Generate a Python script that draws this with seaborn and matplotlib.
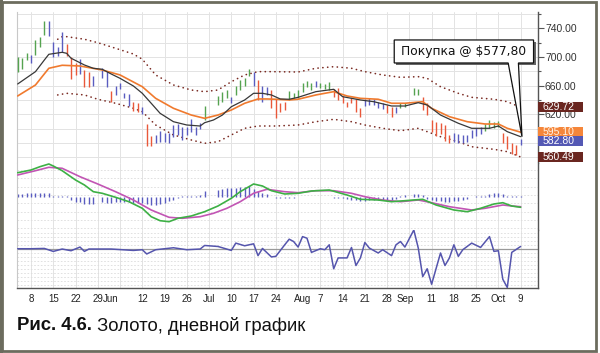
import numpy as np
import pandas as pd
import matplotlib
matplotlib.use("Agg")
import matplotlib.pyplot as plt
import matplotlib.transforms as mtrans
from matplotlib.patches import Polygon, Rectangle
import seaborn as sns

sns.set_style("white")
plt.rcParams['font.family'] = ['Liberation Sans', 'DejaVu Sans']

# ---------------- data (weekday index: 0 = 2006-05-03) ----------------
bar_day = list(range(0, 18)) + list(range(19, 43)) + list(range(45, 88)) + list(range(89, 114))
bar_high = [700.4, 698.1, 706.0, 702.8, 723.7, 727.4, 750.6, 750.6, 721.3, 714.3,
            734.4, 717.7, 700.4, 692.0, 696.8, 681.8, 679.5, 673.5,
            684.2, 680.4, 653.0, 659.5, 663.3, 650.2, 648.3, 637.6, 636.2, 629.8,
            606.5, 589.8, 591.2, 596.7, 593.5, 594.4, 605.1, 606.5, 602.7, 602.7,
            613.0, 602.7, 608.3, 631.6,
            645.6, 651.6, 654.0, 643.7, 659.5, 667.9, 670.2, 682.8, 679.5, 667.9,
            659.5, 657.7, 654.0, 641.0, 635.4, 637.6, 653.0, 650.2, 654.0, 663.3,
            666.9, 663.7, 666.9, 663.7, 662.3, 665.5, 654.9, 656.3, 645.6, 637.6,
            642.3, 641.0, 628.4, 641.0, 642.3, 641.0, 637.6, 636.2, 633.0, 629.8,
            630.6, 635.4, 635.4,
            656.3, 654.9, 644.6, 635.4, 612.0, 609.3, 607.9, 605.1, 591.2, 594.4,
            592.5, 591.2, 591.2, 598.1, 600.5, 602.7, 606.5, 612.0, 609.7, 611.1,
            594.4, 589.8, 580.4, 577.2, 585.2]
bar_low = [679.5, 682.8, 695.8, 691.2, 702.8, 714.3, 730.7, 729.3, 700.4, 701.4,
           706.5, 701.4, 668.9, 674.9, 676.2, 657.7, 657.7, 659.5,
           670.3, 657.7, 637.6, 647.0, 654.9, 643.2, 631.6, 624.6, 623.2, 620.0,
           575.8, 576.2, 579.6, 581.8, 581.8, 580.4, 588.8, 591.2, 584.2, 591.2,
           595.8, 591.2, 599.1, 612.1,
           633.0, 637.6, 642.3, 635.4, 647.0, 654.0, 659.5, 673.5, 659.5, 640.0,
           637.6, 647.0, 628.4, 614.4, 623.7, 626.0, 640.0, 642.3, 642.3, 651.6,
           657.7, 653.9, 657.7, 656.7, 654.9, 653.9, 644.6, 640.0, 635.4, 630.6,
           635.4, 623.7, 616.7, 631.6, 633.0, 633.0, 628.4, 627.0, 621.4, 615.8,
           621.4, 628.4, 629.8,
           647.0, 647.0, 626.0, 619.0, 595.3, 590.0, 592.5, 582.8, 580.0, 581.8,
           580.4, 580.4, 581.8, 586.6, 589.8, 592.5, 597.1, 600.5, 600.5, 601.9,
           579.6, 571.2, 564.6, 563.2, 577.2]
bar_color = list("GGGBGGGBBBBRRRBRRB"
                 "BBRBBBBRRBRRBBBBBBBBBBBG"
                 "GGGBGGGGBRBBRRRRGGGGGGBGGGRRRRRRRBBBBBRRBGG"
                 "GGRRRRRRRBBBBBBBGGGGRRRRB")
hist_val = [3, 3, 3.5, 3.5, 4, 4, 4, 4, 1, 0.5, 0.5, 0.5, -3, -5, -5, -7, -7, -7,
            -5, -6, -6, -5, -5, -5, -5, -6, -6, -6, -7, -8, -8, -7, -6, -4, -3, -1,
            0.5, 0.5, 1, 1, 2, 6,
            7, 8, 9, 9, 9, 10, 10, 10.5, 8, 6, 4, 3, -0.5, -1, -1.5, -1.5, -1, -1, -0.5,
            -0.5, -0.5, -0.5, -0.5, -0.5, -0.5, -0.5, -1, -1, -1.5,
            -2, -3, -3, -4, -4, -3, -3, -3, -3, -3, -3, -2, 1, 2,
            3, 3, 2, -2, -3, -4, -4, -5, -5, -4, -4, -3, -2, -0.5, 0.5, 0.5, 1,
            3, 4, 4, 3, 0.5, 0.5, 0.5, 0.5]

fast_day = [0, 4, 6, 7, 10, 11, 12, 15, 17, 19, 21, 23, 26, 28, 30, 32, 35, 38, 41, 42,
            44, 46, 48, 51, 53, 55, 57, 59, 61, 63, 67, 71, 73, 77, 80, 84, 87, 90, 92, 95,
            99, 102, 106, 108, 110, 113]
fast_val = [662.3, 679.5, 695.8, 703.7, 706.5, 705.1, 698.2, 688.8, 684.2, 682.8,
            676.3, 670.2, 659.5, 649.3, 635.4, 621.4, 609.7, 605.1, 603.7, 608.3,
            612.1, 619.0, 630.6, 640.0, 649.3, 649.3, 647.0, 641.4, 641.0, 643.7,
            651.6, 654.9, 644.6, 640.0, 637.6, 631.6, 631.6, 636.2, 633.0, 619.0,
            607.5, 600.5, 600.5, 603.7, 595.8, 588.8]
slow_day = [0, 4, 7, 10, 14, 19, 23, 28, 31, 35, 39, 42, 45, 48, 51, 54, 56, 58, 61, 63,
            67, 71, 74, 77, 81, 84, 87, 91, 93, 97, 101, 105, 108, 110, 113]
slow_val = [645.6, 660.9, 684.2, 688.4, 687.4, 681.8, 674.9, 658.5, 642.3, 628.4,
            619.0, 614.4, 619.0, 626.0, 635.4, 641.4, 641.4, 641.0, 640.0, 641.0,
            647.0, 651.6, 645.6, 642.3, 641.0, 635.4, 635.4, 637.6, 628.4, 616.7,
            609.7, 606.5, 606.5, 600.5, 595.1]
up_day = [9, 10, 11, 15, 18, 22, 26, 28, 31, 35, 39, 42, 45, 48, 51, 54, 57, 63, 67, 71,
          75, 78, 82, 86, 90, 92, 95, 99, 102, 107, 110, 113]
up_val = [724.7, 728.3, 728.3, 724.7, 719.9, 712.1, 704.1, 696.8, 674.9, 660.9,
          653.9, 651.6, 653.9, 665.5, 674.9, 679.5, 679.5, 679.0, 684.2, 686.4,
          684.2, 679.5, 674.9, 671.6, 672.5, 670.2, 658.5, 649.3, 643.7, 641.0,
          637.6, 629.72]
lo_day = [9, 11, 15, 18, 22, 26, 28, 31, 35, 39, 42, 45, 48, 51, 54, 58, 63, 67, 71, 75,
          78, 82, 86, 90, 95, 99, 102, 107, 110, 113]
lo_val = [647.0, 649.3, 647.0, 641.0, 635.4, 628.4, 623.7, 605.1, 591.2, 584.2,
          579.6, 581.8, 591.2, 600.5, 603.7, 603.7, 605.1, 609.7, 613.0, 609.7,
          605.1, 600.5, 597.1, 600.5, 588.8, 581.8, 574.8, 571.2, 567.9, 560.49]

macd_day = [0, 3, 5, 7, 8, 10, 13, 15, 17, 19, 22, 25, 28, 30, 32, 34, 36, 39, 42, 45,
            48, 50, 53, 55, 57, 60, 63, 66, 70, 74, 77, 81, 84, 87, 91, 94, 98, 101, 104, 107,
            109, 111, 113]
macd_val = [24, 26.7, 30, 32.7, 30.7, 26, 16.7, 11.7, 5, 3.4, -0.6, -5, -11.6, -20, -24,
            -25, -21.6, -19.3, -15, -9.3, -1.6, 5, 12.7, 10.7, 6, 2.7, 3.4, 5.7, 6.7, 1.7,
            -2.6, -3.3, -5, -4, -2.6, -8.3, -13.3, -15, -11.6, -7.3, -6, -9.3, -10.6]
sig_day = [0, 4, 7, 10, 14, 18, 22, 26, 30, 34, 37, 41, 44, 47, 50, 53, 56, 60, 63, 67,
           71, 75, 78, 82, 86, 90, 93, 97, 102, 105, 109, 111, 113]
sig_val = [21.7, 26, 29.4, 28.4, 20, 12.7, 5, -3.3, -13.3, -20.6, -21.6, -20, -16.6,
           -11.6, -5, 3.4, 7.4, 5, 4, 6, 6, 3.4, 0, -3.3, -5, -3.3, -6, -10, -13.3,
           -11.6, -8.3, -9.3, -10]

osc_day = [0, 3, 6, 8, 10, 12, 14, 15, 16, 21, 26, 28, 29, 31, 35, 38, 41, 42, 45, 48,
           49, 51, 53, 54, 55, 57, 58, 60, 61, 62, 63, 64, 65, 66, 68, 69, 70, 71, 72, 74,
           75, 76, 77, 78, 79, 81, 82, 84, 85, 86, 87, 89, 90, 91, 92, 93, 95, 96, 97, 98,
           99, 100, 102, 104, 106, 107, 108, 109, 110, 111, 113]
osc_val = [0.3, 0.3, 0.6, -2.4, 0, -1.7, 2, -2.4, 0, 0, -1.4, -0.7, -5, -0.7, 1.3, -0.7,
           0, 3.6, 2.6, -1.4, 6, 3.3, 5.3, -6.7, 0.6, -8, -7.4, 4.3, 10, 7.6, 2, 12.6, 11,
           -3.4, 0.3, -0.7, 4.3, -20, -9, -9, 1.6, -16.7, -9, 6.6, 1, -4, -0.7, -6.7, 4.3,
           7.6, 2, 19.3, 1, -28, -20, -35.7, -4, -16.7, -9, 4.3, -7.4, -0.7, 6, 1.6, 12.6,
           -2.4, -1.7, -30.7, -39, -3.4, 2.6]

tick_dates = ["2006-05-08", "2006-05-15", "2006-05-22", "2006-05-29", "2006-06-01",
              "2006-06-12", "2006-06-19", "2006-06-26", "2006-07-03", "2006-07-10",
              "2006-07-17", "2006-07-24", "2006-08-01", "2006-08-07", "2006-08-14",
              "2006-08-21", "2006-08-28", "2006-09-01", "2006-09-11", "2006-09-18",
              "2006-09-25", "2006-10-02", "2006-10-09"]
tick_labels = ["8", "15", "22", "29", "Jun", "12", "19", "26", "Jul", "10", "17", "24",
               "Aug", "7", "14", "21", "28", "Sep", "11", "18", "25", "Oct", "9"]
month_dates = ["2006-06-01", "2006-07-03", "2006-08-01", "2006-09-01", "2006-10-02"]

right_labels = [620, 660, 700, 740]
value_boxes = [(629.72, "629.72", "#6a2620", "white"),
               (595.10, "595.10", "#f5863a", "#fff3e6"),
               (582.80, "582.80", "#5458b4", "white"),
               (560.49, "560.49", "#6a2620", "white")]
note_text = "Покупка @ $577,80"
caption_bold = "Рис. 4.6."
caption_rest = " Золото, дневной график"

# ---------------- layout ----------------
W, H = 600, 353
fig = plt.figure(figsize=(6.0, 3.53), dpi=100)
fig.patch.set_facecolor("white")

L, R = 17, 538
def box(top, bot):
    return [L / W, 1 - bot / H, (R - L) / W, (bot - top) / H]

ax1 = fig.add_axes(box(12, 163))
ax2 = fig.add_axes(box(163, 230))
ax3 = fig.add_axes(box(230, 288))

start = np.datetime64("2006-05-03")
tick_pos = [int(np.busday_count(start, np.datetime64(d))) for d in tick_dates]
month_pos = [int(np.busday_count(start, np.datetime64(d))) for d in month_dates]
mondays = [int(np.busday_count(start, d)) for d in
           pd.date_range("2006-05-08", "2006-10-09", freq="W-MON").values.astype("datetime64[D]")]

XL = (-0.15, 116.9)
grid_c = "#e3e3e3"
for ax in (ax1, ax2, ax3):
    ax.set_xlim(*XL)
    ax.set_facecolor("white")
    for m in mondays:
        ax.axvline(m, color=grid_c, lw=0.7, zorder=0)
    ax.spines["top"].set_visible(False)
    ax.spines["left"].set_color("#c8c8c8")
    ax.spines["left"].set_linewidth(0.8)
    ax.spines["right"].set_color("#555555")
    ax.spines["right"].set_linewidth(1.0)
    ax.spines["bottom"].set_visible(False)
    ax.set_xticks([])
    ax.tick_params(left=False, labelleft=False)

# ---------------- top: price panel ----------------
for v in range(560, 761, 20):
    ax1.axhline(v, color=grid_c, lw=0.7, zorder=0)

cmap = {"G": "#55a350", "B": "#5a5cc0", "R": "#e9583a"}
ax1.vlines(bar_day, bar_low, bar_high, colors=[cmap[c] for c in bar_color], lw=1.0, zorder=3)

dot_style = dict(color="#7a2a22", lw=1.2, linestyle=(0, (0.1, 2.8)), dash_capstyle="round")
sns.lineplot(x=up_day, y=up_val, ax=ax1, **dot_style, zorder=2)
sns.lineplot(x=lo_day, y=lo_val, ax=ax1, **dot_style, zorder=2)
sns.lineplot(x=slow_day, y=slow_val, ax=ax1, color="#f07a2e", lw=1.2, zorder=4)
sns.lineplot(x=fast_day, y=fast_val, ax=ax1, color="#383838", lw=0.9, zorder=5)
ax1.set_xlim(*XL)
ax1.set_ylim(552.1, 762.7)
ax1.set_xticks([])

ax1.yaxis.tick_right()
ax1.set_yticks(right_labels)
ax1.set_yticklabels([f"{v:.2f}" for v in right_labels])
ax1.set_yticks([v for v in range(560, 761, 20) if v not in right_labels], minor=True)
ax1.tick_params(axis="y", which="major", right=True, labelright=True, length=4, width=0.8,
                color="#555555", labelsize=7.5, labelcolor="#333333", pad=1)
ax1.tick_params(axis="y", which="minor", right=True, length=2.5, width=0.8, color="#555555")
ax1.set_xlabel("")
ax1.set_ylabel("")

bt = mtrans.blended_transform_factory(ax1.transAxes, ax1.transData)
bw = 45 / (R - L)
bh = 10 * 1.395
for v, txt, fc, tc in value_boxes:
    ax1.add_patch(Rectangle((1.0, v - bh / 2), bw, bh, transform=bt, fc=fc, ec="none",
                            clip_on=False, zorder=10))
    ax1.text(1.0 + 4.5 / (R - L), v, txt, transform=bt, ha="left", va="center",
             fontsize=7.5, color=tc, clip_on=False, zorder=11)

# callout
px_x = 1 / 4.45
px_y = 1.395
bx0, bx1, by0, by1 = 84.6, 115.9, 691.6, 723.7
shadow = Polygon([(bx0 + 2 * px_x, by1 - 2 * px_y), (bx1 + 2 * px_x, by1 - 2 * px_y),
                  (bx1 + 2 * px_x, by0 - 2 * px_y), (bx0 + 2 * px_x, by0 - 2 * px_y)],
                 closed=True, fc="#666666", ec="none", zorder=11, clip_on=False)
ax1.add_patch(shadow)
callout = Polygon([(bx0, by1), (bx1, by1), (bx1, by0), (112.5, by0), (113.3, 588.8),
                   (110.2, by0), (bx0, by0)], closed=True, fc="white", ec="#111111",
                  lw=0.9, zorder=12, clip_on=False)
ax1.add_patch(callout)
ax1.text((bx0 + bx1) / 2, (by0 + by1) / 2, note_text, ha="center", va="center",
         fontsize=8.8, color="#111111", zorder=13, family=["DejaVu Sans"])

# ---------------- middle: MACD panel ----------------
for v in np.arange(-31.5, 33, 8.3):
    ax2.axhline(v, color="#dcdcdc", lw=0.6, ls=(0, (2, 2)), zorder=0)
hd = np.array(bar_day)
hv = np.array(hist_val)
ax2.vlines(hd, np.zeros_like(hv), hv, colors="#5a5cc0", lw=1.0, zorder=2)
sns.lineplot(x=sig_day, y=sig_val, ax=ax2, color="#c255b4", lw=1.2, zorder=3)
sns.lineplot(x=macd_day, y=macd_val, ax=ax2, color="#3db045", lw=1.2, zorder=4)
ax2.set_xlim(*XL)
ax2.set_ylim(-33.3, 33.7)
ax2.set_yticks([])
ax2.set_xticks([])
ax2.set_xlabel("")
ax2.set_ylabel("")

# ---------------- bottom: oscillator ----------------
for v in np.arange(-36, 19, 4):
    if v != 0:
        ax3.axhline(v, color="#dcdcdc", lw=0.6, ls=(0, (2, 2)), zorder=0)
ax3.axhline(0, color="#9a9a9a", lw=0.9, zorder=1)
sns.lineplot(x=osc_day, y=osc_val, ax=ax3, color="#5555ad", lw=1.1, zorder=3)
ax3.set_xlim(*XL)
ax3.set_ylim(-39.5, 19.3)
ax3.set_yticks([])
ax3.spines["bottom"].set_visible(True)
ax3.spines["bottom"].set_color("#555555")
ax3.spines["bottom"].set_linewidth(1.0)
ax3.set_xticks(tick_pos)
ax3.set_xticklabels(tick_labels)
ax3.set_xticks(month_pos, minor=True)
ax3.tick_params(axis="x", which="major", bottom=True, length=0, labelsize=7,
                labelcolor="#222222", pad=4)
ax3.tick_params(axis="x", which="minor", bottom=True, length=5, width=0.8,
                direction="inout", color="#555555")
ax3.set_xlabel("")
ax3.set_ylabel("")

# ---------------- caption & frame ----------------
t1 = fig.text(17 / W, 1 - 326 / H, caption_bold, fontsize=13.3, fontweight="bold",
              color="#111111", va="center", ha="left")
fig.canvas.draw()
ext = t1.get_window_extent(renderer=fig.canvas.get_renderer())
fig.text(ext.x1 / W, 1 - 326 / H, caption_rest, fontsize=13.3, color="#111111",
         va="center", ha="left")

fig.add_artist(Rectangle((1.5 / W, 2.5 / H), (596 - 1.5) / W, (351 - 2.5) / H,
                         transform=fig.transFigure, fill=False, ec="#6c6c5e", lw=2.0))
fig.add_artist(Rectangle((0, 0), 3 / W, 1, transform=fig.transFigure, fc="#6c6c5e",
                         ec="none"))

fig.savefig("out.png", dpi=100, facecolor="white")
